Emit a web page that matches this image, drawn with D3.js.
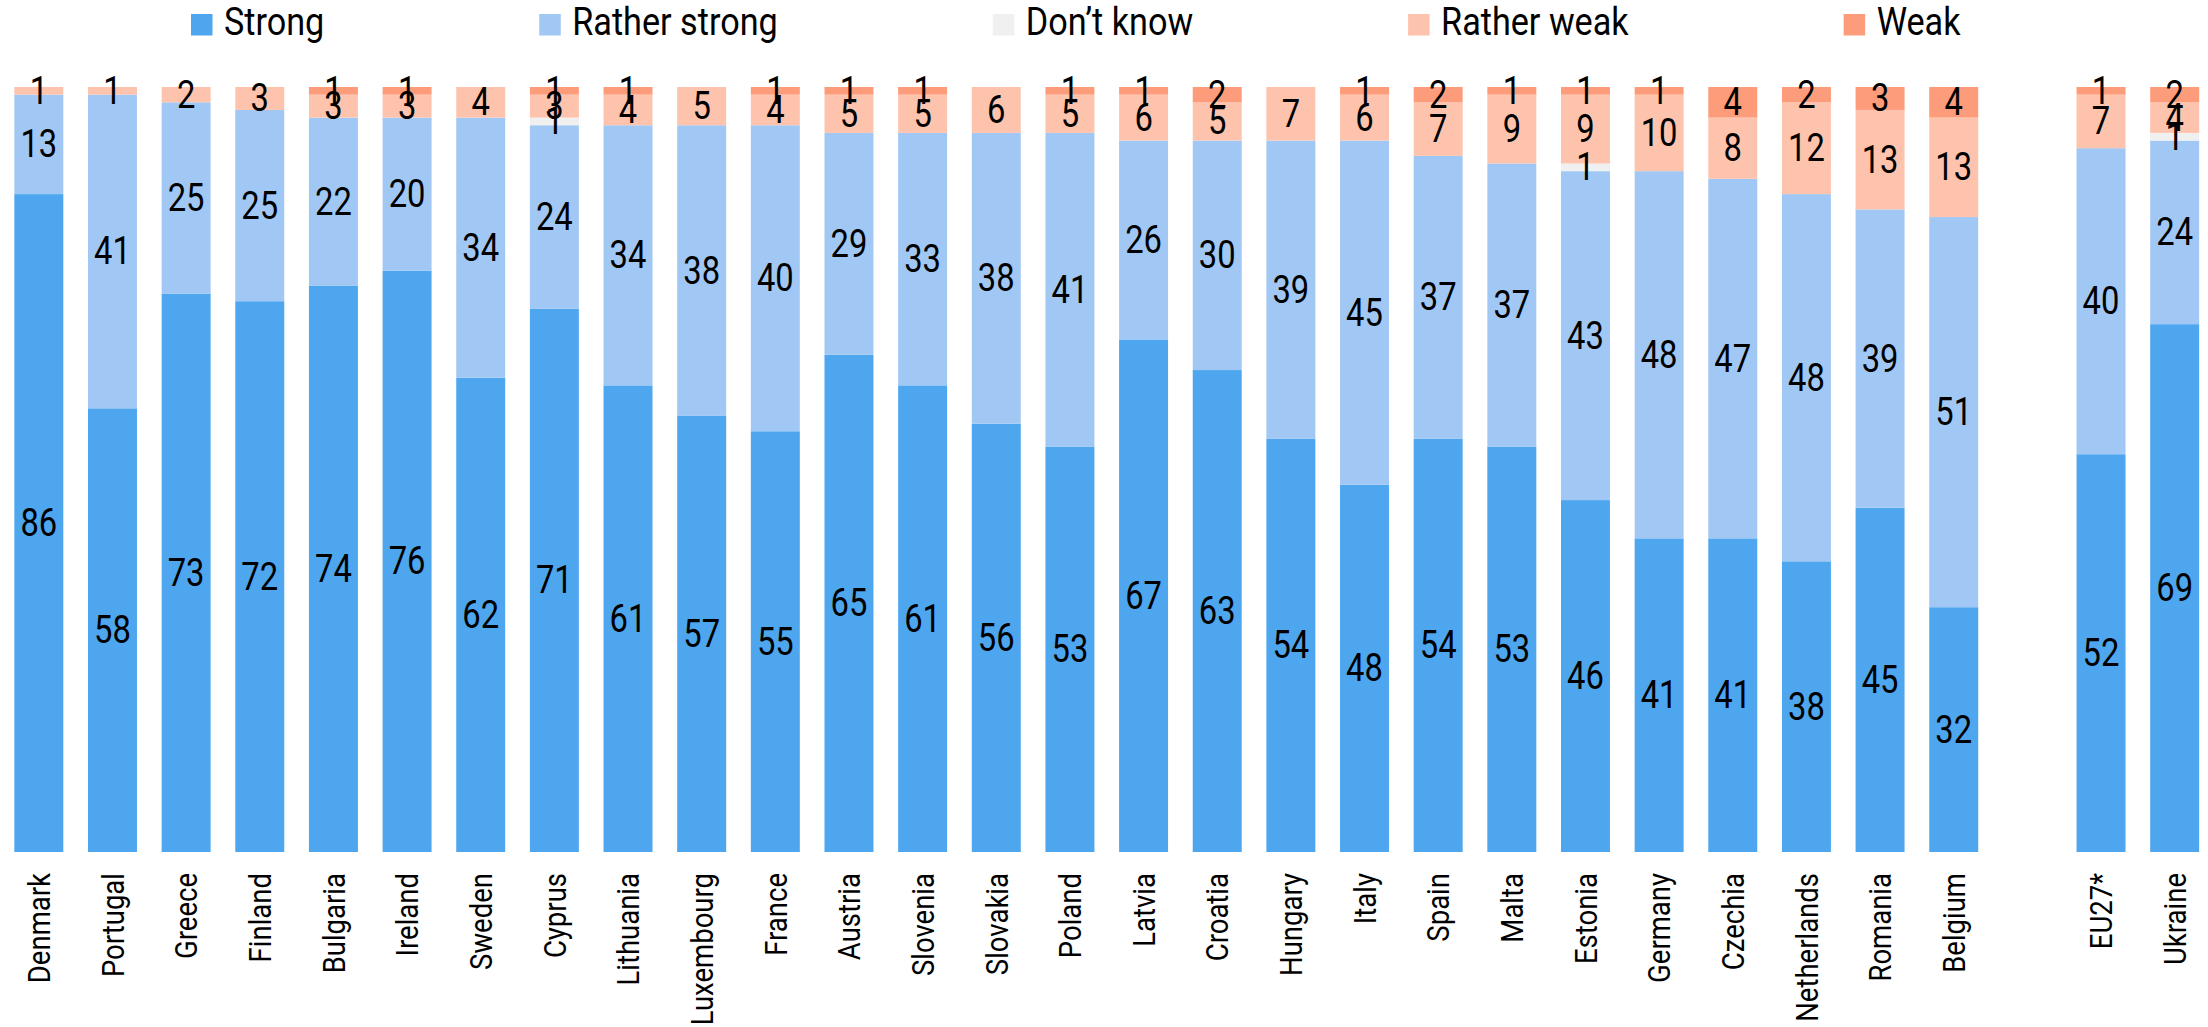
<!DOCTYPE html>
<html>
  <head>
    <meta charset="utf-8" />
    <title>Strong / weak</title>
    <script src="https://cdn.jsdelivr.net/npm/d3@7"></script>
    <style type="text/css">
      body { margin: 0; background: #fff; }
      text { font-family: Roboto, "Noto Sans", sans-serif; fill: #000; }
    </style>
  </head>
  <body>
    <svg id="chart" width="2208" height="1027"></svg>
    <script type="text/javascript">
      // categories, left to right ("" = spacer between Belgium and EU27*)
      var countries = ['Denmark', 'Portugal', 'Greece', 'Finland', 'Bulgaria', 'Ireland', 'Sweden',
        'Cyprus', 'Lithuania', 'Luxembourg', 'France', 'Austria', 'Slovenia', 'Slovakia', 'Poland',
        'Latvia', 'Croatia', 'Hungary', 'Italy', 'Spain', 'Malta', 'Estonia', 'Germany', 'Czechia',
        'Netherlands', 'Romania', 'Belgium', '', 'EU27*', 'Ukraine'];

      var seriesNames = ['Strong', 'Rather strong', 'Don\u2019t know', 'Rather weak', 'Weak'];
      var seriesColors = ['#4ea6ef', '#a1c8f4', '#f0f0f0', '#fec3ad', '#fd9c7b'];

      // values per series, same order as countries (null for the spacer)
      var strong =       [86, 58, 73, 72, 74, 76, 62, 71, 61, 57, 55, 65, 61, 56, 53, 67, 63, 54, 48, 54, 53, 46, 41, 41, 38, 45, 32, null, 52, 69];
      var ratherStrong = [13, 41, 25, 25, 22, 20, 34, 24, 34, 38, 40, 29, 33, 38, 41, 26, 30, 39, 45, 37, 37, 43, 48, 47, 48, 39, 51, null, 40, 24];
      var dontKnow =     [0, 0, 0, 0, 0, 0, 0, 1, 0, 0, 0, 0, 0, 0, 0, 0, 0, 0, 0, 0, 0, 1, 0, 0, 0, 0, 0, null, 0, 1];
      var ratherWeak =   [1, 1, 2, 3, 3, 3, 4, 3, 4, 5, 4, 5, 5, 6, 5, 6, 5, 7, 6, 7, 9, 9, 10, 8, 12, 13, 13, null, 7, 4];
      var weak =         [0, 0, 0, 0, 1, 1, 0, 1, 1, 0, 1, 1, 1, 0, 1, 1, 2, 0, 1, 2, 1, 1, 1, 4, 2, 3, 4, null, 1, 2];

      var seriesValues = [strong, ratherStrong, dontKnow, ratherWeak, weak];

      var rows = countries.map(function (c, i) {
        var r = { country: c };
        seriesNames.forEach(function (s, k) { r[s] = seriesValues[k][i] || 0; });
        return r;
      });

      var svg = d3.select('#chart');

      var x = d3.scaleBand().domain(countries).range([2, 2211.5]).paddingInner(0.335).paddingOuter(0.1675);
      var y = d3.scaleLinear().domain([0, 100]).range([852, 87]);
      var color = d3.scaleOrdinal().domain(seriesNames).range(seriesColors);

      var stacked = d3.stack().keys(seriesNames)(rows.filter(function (r) { return r.country !== ''; }));

      // bars
      var layers = svg.append('g').selectAll('g')
        .data(stacked)
        .join('g')
        .attr('fill', function (d) { return color(d.key); });

      layers.selectAll('rect')
        .data(function (d) { return d; })
        .join('rect')
        .attr('x', function (d) { return x(d.data.country); })
        .attr('width', x.bandwidth())
        .attr('y', function (d) { return y(d[1]); })
        .attr('height', function (d) { return y(d[0]) - y(d[1]); });

      // value labels (skip zeros)
      var labels = svg.append('g');
      stacked.forEach(function (layer) {
        labels.selectAll(null)
          .data(layer.filter(function (d) { return d[1] - d[0] > 0; }))
          .join('text')
          .attr('transform', function (d) {
            var cx = x(d.data.country) + x.bandwidth() / 2;
            var cy = (y(d[0]) + y(d[1])) / 2;
            return 'translate(' + cx + ',' + cy + ') scale(0.84,1)';
          })
          .attr('text-anchor', 'middle')
          .attr('dominant-baseline', 'central')
          .style('font-size', '39px')
          .text(function (d) { return d[1] - d[0]; });
      });

      // category axis
      var axis = svg.append('g')
        .attr('transform', 'translate(0,873)')
        .call(d3.axisBottom(x).tickSize(0).tickPadding(0));
      axis.select('.domain').remove();
      axis.selectAll('text')
        .attr('y', 0)
        .attr('dy', null)
        .attr('transform', 'rotate(-90) scale(0.86,1)')
        .attr('text-anchor', 'end')
        .attr('dominant-baseline', 'central')
        .style('font-family', 'Roboto, sans-serif')
        .style('font-size', '32px')
        .style('fill', '#000');

      // legend
      var legend = svg.append('g');
      var lx = 191;
      seriesNames.forEach(function (s) {
        legend.append('rect')
          .attr('x', lx).attr('y', 14)
          .attr('width', 21.5).attr('height', 21.5)
          .attr('fill', color(s));
        var t = legend.append('text')
          .attr('transform', 'translate(' + (lx + 33) + ',35) scale(0.9,1)')
          .style('font-size', '38px')
          .text(s);
        lx += 33 + t.node().getComputedTextLength() * 0.9 + 215;
      });
    </script>
  </body>
</html>
